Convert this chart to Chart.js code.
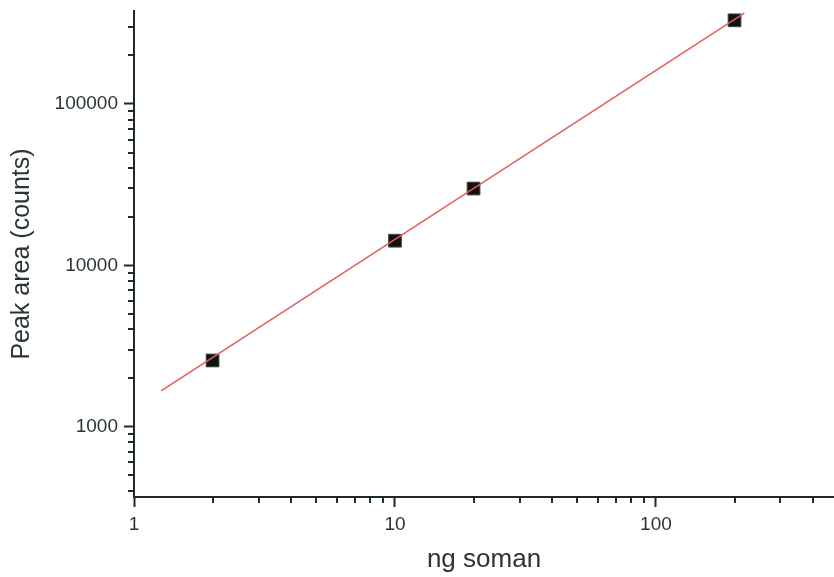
<!DOCTYPE html>
<html>
<head>
<meta charset="utf-8">
<script src="https://cdn.jsdelivr.net/npm/chart.js@4/dist/chart.umd.min.js"></script>
<style>
  html, body { margin: 0; padding: 0; background: #fff; }
  #wrap { width: 834px; height: 577px; }
</style>
</head>
<body>
<div id="wrap"><canvas id="chart" width="834" height="577"></canvas></div>
<script>
    "use strict";

    // values
    const doses = [2, 10, 20, 200];                 // ng soman
    const peakAreas = [2570, 14200, 29900, 330000]; // counts
    const fitDoses = [1.27, 218];
    const fitAreas = [1663, 366000];

    const xMajor = [1, 10, 100];
    const xMinor = [2, 3, 4, 5, 6, 7, 8, 9, 20, 30, 40, 50, 60, 70, 80, 90, 200, 300, 400];
    const yMajor = [1000, 10000, 100000];
    const yMinor = [400, 500, 600, 700, 800, 900, 2000, 3000, 4000, 5000, 6000, 7000, 8000, 9000,
                    20000, 30000, 40000, 50000, 60000, 70000, 80000, 90000, 200000, 300000];

    const axisColor = '#1f2b2b';
    const textColor = '#2b3535';
    const fontFamily = '"Liberation Sans", Arial, Helvetica, sans-serif';

    function setTicks(major, minor) {
        return function (scale) {
            var all = major.concat(minor).sort(function (a, b) { return a - b; });
            scale.ticks = all.map(function (v) {
                return { value: v, major: major.indexOf(v) >= 0 };
            });
        };
    }

    // short ticks for minor values, drawn from the scales
    const minorTicks = {
        id: 'minorTicks',
        afterDraw: function (chart) {
            var ctx = chart.ctx;
            var xs = chart.scales.x, ys = chart.scales.y;
            ctx.save();
            ctx.strokeStyle = axisColor;
            ctx.lineWidth = 2;
            ctx.beginPath();
            xMinor.forEach(function (v) {
                var px = Math.round(xs.getPixelForValue(v));
                ctx.moveTo(px, xs.top);
                ctx.lineTo(px, xs.top + 6);
            });
            yMinor.forEach(function (v) {
                var py = Math.round(ys.getPixelForValue(v));
                ctx.moveTo(ys.right, py);
                ctx.lineTo(ys.right - 6, py);
            });
            ctx.stroke();
            ctx.restore();
        }
    };

    const ctx = document.getElementById('chart').getContext('2d');

    new Chart(ctx, {
        type: 'scatter',
        data: {
            datasets: [
                {
                    label: 'fit',
                    data: fitDoses.map(function (x, i) { return { x: x, y: fitAreas[i] }; }),
                    showLine: true,
                    borderColor: '#de5f5f',
                    borderWidth: 1.5,
                    pointRadius: 0,
                    order: 0
                },
                {
                    label: 'Peak area',
                    data: doses.map(function (x, i) { return { x: x, y: peakAreas[i] }; }),
                    pointStyle: 'rect',
                    pointRadius: 9,
                    backgroundColor: '#111111',
                    borderColor: '#3c4a3c',
                    borderWidth: 1,
                    order: 1
                }
            ]
        },
        options: {
            responsive: false,
            animation: false,
            events: [],
            layout: { autoPadding: false, padding: { top: 11, right: 0, left: 0, bottom: 0 } },
            plugins: {
                legend: { display: false },
                tooltip: { enabled: false }
            },
            scales: {
                x: {
                    type: 'logarithmic',
                    min: 1,
                    max: 481,
                    afterBuildTicks: setTicks(xMajor, xMinor),
                    afterFit: function (scale) {
                        scale.height = 80;
                        scale.paddingLeft = 0;
                        scale.paddingRight = 0;
                    },
                    border: { display: true, color: axisColor, width: 2 },
                    grid: {
                        drawOnChartArea: false,
                        tickLength: 10,
                        tickWidth: 2,
                        tickColor: function (c) {
                            return c.tick && xMajor.indexOf(c.tick.value) >= 0 ? axisColor : 'rgba(0,0,0,0)';
                        }
                    },
                    ticks: {
                        autoSkip: false,
                        maxRotation: 0,
                        padding: 6,
                        color: textColor,
                        font: { family: fontFamily, size: 19 },
                        callback: function (v) { return xMajor.indexOf(v) >= 0 ? String(v) : ''; }
                    },
                    title: {
                        display: true,
                        text: 'ng soman',
                        color: textColor,
                        font: { family: fontFamily, size: 26 },
                        padding: { top: 0, bottom: 2 }
                    }
                },
                y: {
                    type: 'logarithmic',
                    min: 366,
                    max: 377000,
                    afterBuildTicks: setTicks(yMajor, yMinor),
                    afterFit: function (scale) {
                        scale.width = 134;
                        scale.paddingTop = 0;
                        scale.paddingBottom = 0;
                    },
                    border: { display: true, color: axisColor, width: 2 },
                    grid: {
                        drawOnChartArea: false,
                        tickLength: 10,
                        tickWidth: 2,
                        tickColor: function (c) {
                            return c.tick && yMajor.indexOf(c.tick.value) >= 0 ? axisColor : 'rgba(0,0,0,0)';
                        }
                    },
                    ticks: {
                        autoSkip: false,
                        padding: 6,
                        color: textColor,
                        font: { family: fontFamily, size: 19 },
                        callback: function (v) { return yMajor.indexOf(v) >= 0 ? String(v) : ''; }
                    },
                    title: {
                        display: true,
                        text: 'Peak area (counts)',
                        color: textColor,
                        font: { family: fontFamily, size: 25 },
                        padding: { top: 7, bottom: 0 }
                    }
                }
            }
        },
        plugins: [minorTicks]
    });
</script>
</body>
</html>
